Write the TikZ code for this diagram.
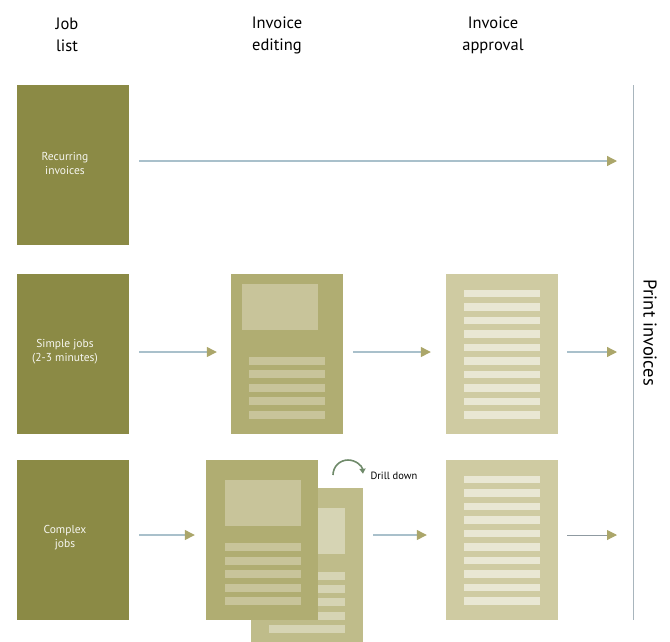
\documentclass[tikz,border=0pt]{standalone}
\usepackage{fontspec}
\setmainfont{PT Sans}
\usetikzlibrary{arrows.meta,positioning}

\definecolor{jobolive}{HTML}{8B8A45}
\definecolor{editfront}{HTML}{B0AD72}
\definecolor{editback}{HTML}{BFBC8A}
\definecolor{insetfront}{HTML}{C8C49A}
\definecolor{insetback}{HTML}{D6D4B4}
\definecolor{apprpage}{HTML}{CFCBA2}
\definecolor{apprline}{HTML}{E9E7D3}
\definecolor{flowblue}{HTML}{A9C0CB}
\definecolor{tipolive}{HTML}{ABA66A}
\definecolor{drillgreen}{HTML}{6F8A6A}
\definecolor{printgrey}{HTML}{A8B5BD}

\newcommand{\pagew}{112}
\newcommand{\pageh}{160}

\tikzset{
  jobbox/.style={fill=jobolive, minimum width=\pagew pt, minimum height=\pageh pt, inner sep=0pt},
  jobtext/.style={text=white!92!jobolive, font=\fontsize{11.5}{14}\selectfont, align=center,
    xshift=-8pt, yshift=2pt},
  page/.style={minimum width=\pagew pt, minimum height=\pageh pt, inner sep=0pt},
  heading/.style={font=\fontsize{16.5}{22}\selectfont, align=center},
  flow/.style={draw=flowblue, line width=1.3pt,
    -{Triangle[length=10pt,width=10pt,color=tipolive]}}
}

\begin{document}
\begin{tikzpicture}[x=1pt,y=-1pt]
  \useasboundingbox (0,0) rectangle (670,641);

  % column headings
  \node[heading] (jobhead) at (67,35) {Job\\list};
  \node[heading] (edithead) at (277,35) {Invoice\\editing};
  \node[heading] (apprhead) at (493,35) {Invoice\\approval};

  % job list
  \node[jobbox, label={[jobtext]center:Recurring\\invoices}] (recur) at (73,165) {};
  \node[jobbox, label={[jobtext]center:Simple jobs\\(2-3 minutes)}] (simple) at (73,354) {};
  \node[jobbox, label={[jobtext]center:Complex\\jobs}] (complex) at (73,540) {};

  % editing pages
  \node[page, fill=editfront] (simpleedit) at (287,354) {};
  \begin{scope}[shift={(simpleedit.north west)}]
    \fill[insetfront] (11,10) rectangle (87,56);
    \foreach \y in {83,96.5,110,123.5,137}
      \fill[insetfront] (18,\y) rectangle (94,\y+8);
  \end{scope}

  \node[page, fill=editback] (complexback) at (307,568) {};
  \begin{scope}[shift={(complexback.north west)}]
    \fill[insetback] (18,20) rectangle (94,66);
    \foreach \y in {84,97,110,124,137}
      \fill[insetback] (18,\y) rectangle (94,\y+8);
  \end{scope}

  \node[page, fill=editfront] (complexedit) at (262,540) {};
  \begin{scope}[shift={(complexedit.north west)}]
    \fill[insetfront] (19,20) rectangle (95,66);
    \foreach \y in {83,97,110,124,137}
      \fill[insetfront] (19,\y) rectangle (95,\y+8);
  \end{scope}

  % drill down
  \node[font=\fontsize{10.5}{12}\selectfont, anchor=west] (drill) at (367,476) {Drill down};
  \draw[drillgreen, line width=1.6pt, -{Triangle[length=5pt,width=6pt]}]
    (333,475) arc[start angle=180, end angle=355, radius=15];

  % approval pages
  \foreach \name/\cy in {simpleappr/354, complexappr/540} {
    \node[page, fill=apprpage] (\name) at (502,\cy) {};
    \begin{scope}[shift={(\name.north west)}]
      \foreach \i in {0,...,9}
        \fill[apprline] (18,16+\i*13.5) rectangle (94,23.5+\i*13.5);
    \end{scope}
  }

  % print invoices
  \coordinate (printtop) at (633,85);
  \coordinate (printbot) at (633,620);
  \draw[printgrey, line width=1pt] (printtop) -- (printbot);
  \node[rotate=-90, font=\fontsize{18.5}{20}\selectfont] (print) at (650,333) {Print invoices};

  % flows
  \draw[flow, shorten <=10pt, shorten >=16pt] ([yshift=4pt]recur.east) -- ([yshift=4pt]recur.east -| printtop);
  \draw[flow, shorten <=10pt, shorten >=14pt] ([yshift=2pt]simple.east) -- ([yshift=2pt]simpleedit.west);
  \draw[flow, shorten <=10pt, shorten >=15pt] ([yshift=2pt]simpleedit.east) -- ([yshift=2pt]simpleappr.west);
  \draw[flow, shorten <=9pt, shorten >=16pt] ([yshift=2pt]simpleappr.east) -- ([yshift=2pt]simpleappr.east -| printtop);
  \draw[flow, shorten <=10pt, shorten >=11pt] ([yshift=5pt]complex.east) -- ([yshift=5pt]complexedit.west);
  \draw[flow, shorten <=10pt, shorten >=19pt] ([yshift=33pt]complexback.east) -- ([yshift=5pt]complexappr.west);
  \draw[flow, draw=printgrey!85!black, line width=1pt, shorten <=9pt, shorten >=16pt] ([yshift=5pt]complexappr.east) -- ([yshift=5pt]complexappr.east -| printtop);
\end{tikzpicture}
\end{document}
